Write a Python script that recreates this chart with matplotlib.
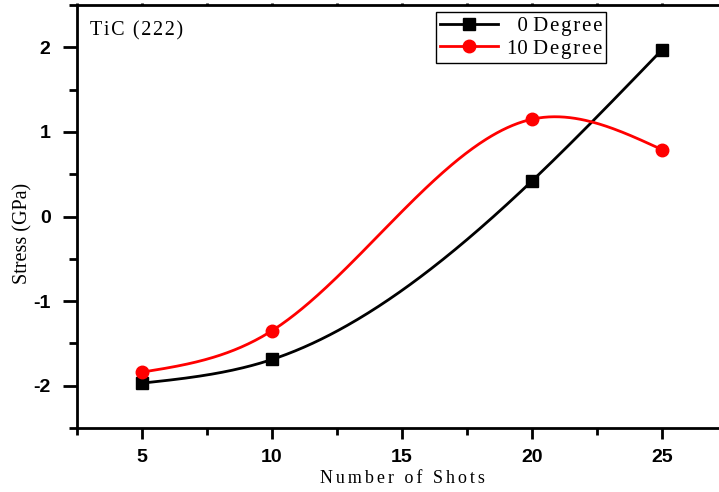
import numpy as np
import matplotlib.pyplot as plt
from matplotlib.ticker import MultipleLocator, FuncFormatter

# --- Data ---
shots = [5, 10, 20, 25]
stress_0deg = [-1.97, -1.69, 0.42, 1.97]
stress_10deg = [-1.84, -1.35, 1.15, 0.79]

SERIF = ['Liberation Serif', 'DejaVu Serif']


def spaced(s, gap='\u200a'):
    # letter spacing like the original Origin export
    return gap.join(s)


def natural_spline(x, y, n=300):
    # natural cubic spline through the points (Origin-style smooth line)
    x = np.asarray(x, float)
    y = np.asarray(y, float)
    k = len(x)
    h = np.diff(x)
    A = np.zeros((k, k))
    b = np.zeros(k)
    A[0, 0] = A[-1, -1] = 1
    for i in range(1, k - 1):
        A[i, i - 1] = h[i - 1]
        A[i, i] = 2 * (h[i - 1] + h[i])
        A[i, i + 1] = h[i]
        b[i] = 6 * ((y[i + 1] - y[i]) / h[i] - (y[i] - y[i - 1]) / h[i - 1])
    M = np.linalg.solve(A, b)
    xs = np.linspace(x[0], x[-1], n)
    idx = np.clip(np.searchsorted(x, xs) - 1, 0, k - 2)
    x0, x1 = x[idx], x[idx + 1]
    hh = x1 - x0
    ys = (M[idx] * (x1 - xs) ** 3 / (6 * hh) + M[idx + 1] * (xs - x0) ** 3 / (6 * hh)
          + (y[idx] / hh - M[idx] * hh / 6) * (x1 - xs)
          + (y[idx + 1] / hh - M[idx + 1] * hh / 6) * (xs - x0))
    return xs, ys


fig = plt.figure(figsize=(7.19, 4.92), dpi=100)
ax = fig.add_axes([77 / 719, 1 - 428 / 492, 650 / 719, 423 / 492])

for ys_data, col, mk, lab in [(stress_0deg, 'black', 's', '\u20070 ' + spaced('Degree')),
                              (stress_10deg, 'red', 'o', '10 ' + spaced('Degree'))]:
    sx, sy = natural_spline(shots, ys_data)
    ax.plot(sx, sy, color=col, lw=2)
    ax.plot(shots, ys_data, color=col, marker=mk, ms=9, ls='none')
    ax.plot([], [], color=col, lw=2, marker=mk, ms=9, label=lab)

ax.set_xlim(2.5, 27.5)
ax.set_ylim(-2.5, 2.5)
ax.xaxis.set_major_locator(MultipleLocator(5))
ax.xaxis.set_minor_locator(MultipleLocator(2.5))
ax.yaxis.set_major_locator(MultipleLocator(1))
ax.yaxis.set_minor_locator(MultipleLocator(0.5))
ax.yaxis.set_major_formatter(FuncFormatter(lambda v, p: f"{v:.0f}"))

for s in ax.spines.values():
    s.set_linewidth(2)
ax.tick_params(which='both', direction='out', width=2)
ax.tick_params(axis='y', which='major', length=10, pad=9)
ax.tick_params(axis='y', which='minor', length=6)
ax.tick_params(axis='x', which='major', length=8, pad=7)
ax.tick_params(axis='x', which='minor', length=5)
ax.tick_params(axis='x', which='both', top=True, labeltop=False)
for t in ax.xaxis.get_major_ticks() + ax.xaxis.get_minor_ticks():
    t.tick2line.set_markersize(1.5)
for lbl in ax.get_xticklabels() + ax.get_yticklabels():
    lbl.set_fontfamily('Liberation Sans')
    lbl.set_fontweight('bold')
    lbl.set_fontsize(14)

ax.set_xlabel(spaced("Number of Shots", '\u200a\u200a'), family=SERIF, fontsize=13, labelpad=3)
ax.set_ylabel("Stress (GPa)", family=SERIF, fontsize=14.5)
ax.yaxis.set_label_coords(-0.069, 0.461)
ax.text(0.02, 0.962, spaced("TiC (222)"), transform=ax.transAxes, family=SERIF,
        fontsize=14.5, va='top', ha='left')

leg = ax.legend(loc='upper left', bbox_to_anchor=(0.552, 0.983), frameon=True,
                fancybox=False, edgecolor='black', framealpha=1, handlelength=2.8,
                prop={'family': SERIF, 'size': 15}, borderpad=0.2,
                labelspacing=0.15, handletextpad=0.4, borderaxespad=0)
leg.get_frame().set_linewidth(1)

fig.savefig("out.png", dpi=100)
